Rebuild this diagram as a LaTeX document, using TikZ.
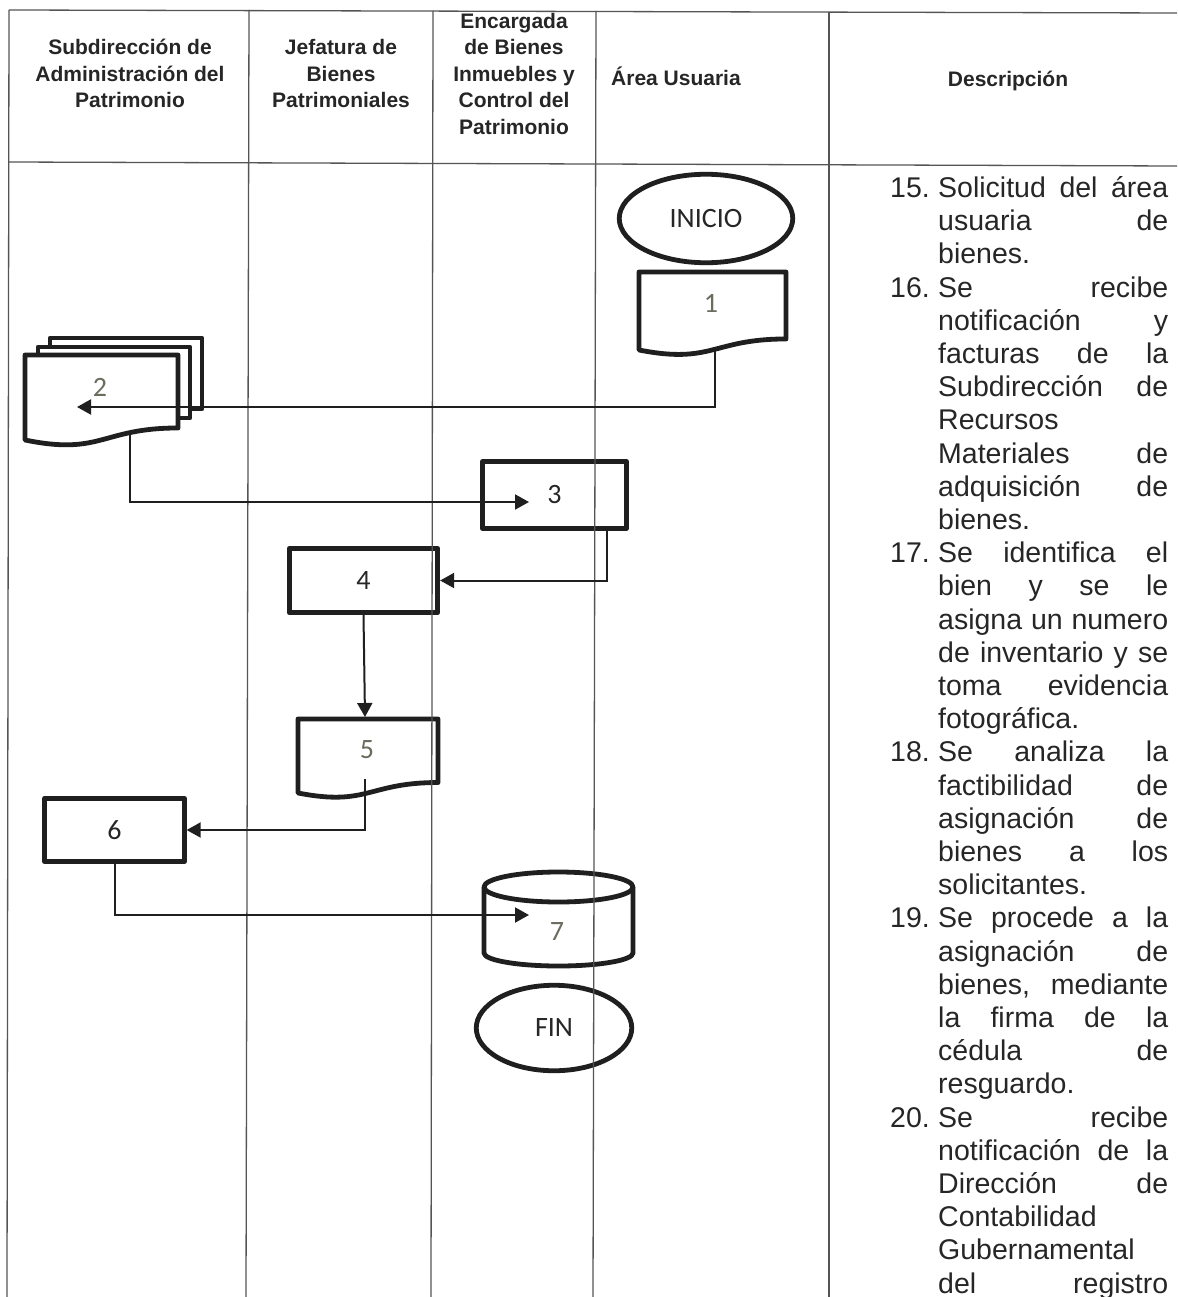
\documentclass[tikz,border=0pt]{standalone}
\usepackage{fontspec}
\setmainfont{Liberation Sans}
\newfontfamily\shpfont{Carlito}
\usetikzlibrary{arrows.meta,shapes.geometric}
\definecolor{tblc}{HTML}{555555}
\definecolor{shpc}{HTML}{1F1F1F}
\definecolor{numc}{HTML}{6B6B5E}
\definecolor{txtc}{HTML}{262626}
\newcommand\docshape[4]{%
  \draw[fshp,fill=white] (#1,#2) -- (#3,#2) -- (#3,{#2+0.802*#4})
    .. controls ({(#1+#3)/2},{#2+0.802*#4}) and ({(#1+#3)/2},{#2+1.107*#4}) .. (#1,{#2+0.934*#4}) -- cycle;}
\newcommand\descj[2]{\node[desc] (dl#1) at (938,{197.5+33.2*#1}) {\makebox[230pt][s]{#2}};}
\newcommand\descl[2]{\node[desc] (dl#1) at (938,{197.5+33.2*#1}) {#2};}
\newcommand\descn[2]{\node[desc] (dn#1) at (890,{197.5+33.2*#1}) {#2};}
\begin{document}
\begin{tikzpicture}[x=1pt,y=-1pt,
 tline/.style={draw=tblc,line width=1.3pt},
 fshp/.style={draw=shpc,line width=4.8pt,line join=round},
 conn/.style={draw=shpc,line width=2pt},
 arr/.style={conn,-{Triangle[length=14pt,width=15pt]}},
 hdr/.style={font=\fontsize{21}{26}\selectfont\bfseries,text=txtc,inner sep=0pt,anchor=base},
 desc/.style={font=\fontsize{28.5}{33}\selectfont,text=txtc,inner sep=0pt,anchor=base west},
 boxs/.style={fshp,rectangle,inner sep=0pt,font=\shpfont\fontsize{28}{30}\selectfont,text=txtc},
 term/.style={fshp,ellipse,inner sep=0pt,font=\shpfont\fontsize{28}{30}\selectfont,text=txtc},
 numl/.style={inner sep=0pt,font=\shpfont\fontsize{28}{30}\selectfont,text=numc},
]
\useasboundingbox (0,0) rectangle (1177,1297);
\fill[white] (0,0) rectangle (1177,1297);
\clip (0,0) rectangle (1177,1297);

% headers
\node[hdr] (h1a) at (130,55) {Subdirección de};
\node[hdr] (h1b) at (130,81.5) {Administración del};
\node[hdr] (h1c) at (130,108) {Patrimonio};
\node[hdr] (h2a) at (341,55) {Jefatura de};
\node[hdr] (h2b) at (341,81.5) {Bienes};
\node[hdr] (h2c) at (341,108) {Patrimoniales};
\node[hdr] (h3a) at (514,28.5) {Encargada};
\node[hdr] (h3b) at (514,55) {de Bienes};
\node[hdr] (h3c) at (514,81.5) {Inmuebles y};
\node[hdr] (h3d) at (514,108) {Control del};
\node[hdr] (h3e) at (514,134.5) {Patrimonio};
\node[hdr,anchor=base west] (h4) at (611,86) {Área Usuaria};
\node[hdr] (h5) at (1008,87) {Descripción};

% shapes
\node[term,minimum width=173.5pt,minimum height=88.5pt] (inicio) at (706,218.5) {INICIO};
\docshape{639}{272}{786}{83.5}
\node[numl] (t1) at (711,303) {1};

\filldraw[fshp,fill=white] (50,338) rectangle (202,409);
\filldraw[fshp,fill=white] (38,347) rectangle (190,418);
\docshape{25}{355}{178}{91}
\node[numl] (t2) at (100,387) {2};

\node[boxs,minimum width=144pt,minimum height=67pt] (b3) at (554.5,495) {3};
\node[boxs,minimum width=148.5pt,minimum height=64.5pt] (b4) at (363.5,580.5) {4};
\docshape{298}{719}{438}{79.2}
\node[numl] (t5) at (367,750) {5};
\node[boxs,minimum width=139.5pt,minimum height=63.5pt] (b6) at (114.5,830) {6};

\draw[fshp] (484,887) -- (484,953) arc[start angle=180,end angle=360,x radius=74.5pt,y radius=13pt] -- (633,887);
\draw[fshp] (558.5,887) ellipse [x radius=74.5pt, y radius=15pt];
\node[numl] (t7) at (557,932) {7};
\node[term,minimum width=155.5pt,minimum height=85.5pt] (fin) at (554,1028) {FIN};

% table lines
\draw[tline] (9,10) -- (1177,13);
\draw[tline] (9,162) -- (1177,166);
\draw[tline] (9,10) -- (7,1297);
\draw[tline] (249,10) -- (246,1297);
\draw[tline] (433,11) -- (431,1297);
\draw[tline] (596,11) -- (593,1297);
\draw[tline] (829,12) -- (829,1297);

% connectors
\coordinate (d1out) at (715,347);
\coordinate (d2in) at (77,407);
\draw[arr] (d1out) |- (d2in);
\coordinate (d2out) at (130,434);
\coordinate (b3in) at (529,502);
\draw[arr] (d2out) |- (b3in);
\coordinate (b3out) at (607,528.5);
\draw[arr] (b3out) |- (b4.east);
\coordinate (d5in) at (365,717);
\draw[arr] (b4.south) -- (d5in);
\coordinate (d5out) at (365,779);
\draw[arr] (d5out) |- (b6.east);
\coordinate (c7in) at (529,915);
\draw[arr] (b6.south) |- (c7in);

% description
\descn{0}{15.}
\descj{0}{Solicitud del área}
\descj{1}{usuaria de}
\descl{2}{bienes.}
\descn{3}{16.}
\descj{3}{Se recibe}
\descj{4}{notificación y}
\descj{5}{facturas de la}
\descj{6}{Subdirección de}
\descl{7}{Recursos}
\descj{8}{Materiales de}
\descj{9}{adquisición de}
\descl{10}{bienes.}
\descn{11}{17.}
\descj{11}{Se identifica el}
\descj{12}{bien y se le}
\descj{13}{asigna un numero}
\descj{14}{de inventario y se}
\descj{15}{toma evidencia}
\descl{16}{fotográfica.}
\descn{17}{18.}
\descj{17}{Se analiza la}
\descj{18}{factibilidad de}
\descj{19}{asignación de}
\descj{20}{bienes a los}
\descl{21}{solicitantes.}
\descn{22}{19.}
\descj{22}{Se procede a la}
\descj{23}{asignación de}
\descj{24}{bienes, mediante}
\descj{25}{la firma de la}
\descj{26}{cédula de}
\descl{27}{resguardo.}
\descn{28}{20.}
\descj{28}{Se recibe}
\descj{29}{notificación de la}
\descj{30}{Dirección de}
\descl{31}{Contabilidad}
\descl{32}{Gubernamental}
\descj{33}{del registro}
\end{tikzpicture}
\end{document}
